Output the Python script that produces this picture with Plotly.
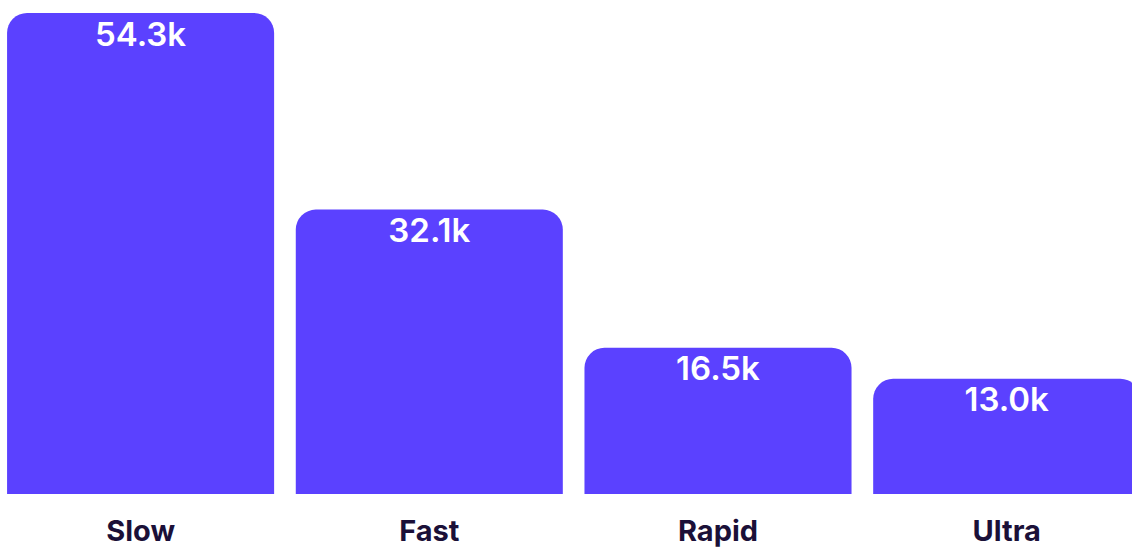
import plotly.graph_objects as go

categories = ["Slow", "Fast", "Rapid", "Ultra"]
values = [54300, 32100, 16500, 13000]
value_labels = ["54.3k", "32.1k", "16.5k", "13.0k"]

bar_color = "#5B41FF"
label_color = "#1B1038"

fig = go.Figure()
fig.add_trace(
    go.Bar(
        x=categories,
        y=values,
        marker=dict(color=bar_color, line=dict(width=0)),
        width=0.925,
        hoverinfo="skip",
    )
)
# value labels sitting just under the top of each bar;
# the transparent marker gives the text a little gap from the bar edge
fig.add_trace(
    go.Scatter(
        x=categories,
        y=values,
        text=value_labels,
        mode="markers+text",
        marker=dict(size=11, opacity=0),
        textposition="bottom center",
        textfont=dict(family="Inter", size=33, color="white", weight=600),
        hoverinfo="skip",
    )
)

fig.update_layout(
    width=1132,
    height=547,
    margin=dict(l=0, r=0, t=0, b=53),
    paper_bgcolor="white",
    plot_bgcolor="white",
    barcornerradius=20,
    showlegend=False,
)
fig.update_xaxes(
    range=[-0.487, 3.434],
    showgrid=False,
    zeroline=False,
    showline=False,
    ticks="",
    automargin=False,
    ticklabelstandoff=17,
    tickfont=dict(family="Inter", size=29, color=label_color, weight=700),
)
fig.update_yaxes(
    range=[0, 55760],
    visible=False,
)

fig.write_html("out.html", config={"displayModeBar": False})
